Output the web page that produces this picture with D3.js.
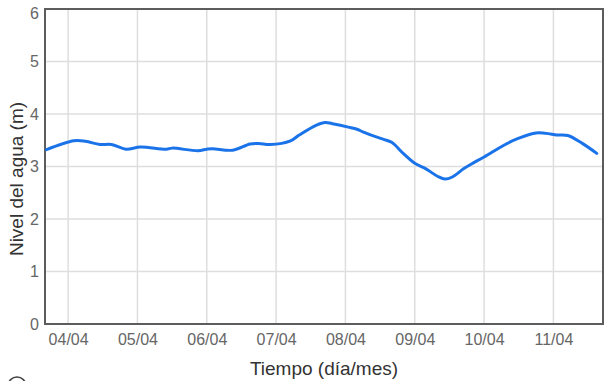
<!DOCTYPE html>
<html>
<head>
<meta charset="utf-8">
<script src="https://cdn.jsdelivr.net/npm/d3@7"></script>
<style>
  html, body { margin: 0; padding: 0; background: #fff; }
  svg { display: block; font-family: "Liberation Sans", Arial, sans-serif; }
</style>
</head>
<body>
<svg id="chart" width="606" height="381"></svg>
<script>
// Data
const times = [
  "2024-04-03 16:30", "2024-04-04 02:00", "2024-04-04 06:00", "2024-04-04 11:00", "2024-04-04 15:00",
  "2024-04-04 20:00", "2024-04-05 01:00", "2024-04-05 10:00", "2024-04-05 12:00", "2024-04-05 21:00",
  "2024-04-06 00:00", "2024-04-06 02:00", "2024-04-06 09:00", "2024-04-06 15:00", "2024-04-06 18:00",
  "2024-04-06 22:00", "2024-04-07 05:00", "2024-04-07 08:00", "2024-04-07 14:00", "2024-04-07 17:00",
  "2024-04-07 20:00", "2024-04-08 01:00", "2024-04-08 04:00", "2024-04-08 06:00", "2024-04-08 13:00",
  "2024-04-08 16:00", "2024-04-08 20:00", "2024-04-09 00:00", "2024-04-09 04:00", "2024-04-09 08:00",
  "2024-04-09 10:30", "2024-04-09 13:00", "2024-04-09 17:00", "2024-04-09 20:00", "2024-04-10 00:00",
  "2024-04-10 07:00", "2024-04-10 12:00", "2024-04-10 18:00", "2024-04-10 23:00", "2024-04-11 01:00",
  "2024-04-11 05:00", "2024-04-11 10:00", "2024-04-11 15:00"
];
const levels = [
  3.32, 3.49, 3.48, 3.42, 3.42,
  3.33, 3.37, 3.33, 3.35, 3.30,
  3.33, 3.34, 3.31, 3.43, 3.44,
  3.42, 3.49, 3.60, 3.79, 3.84,
  3.81, 3.75, 3.71, 3.66, 3.52,
  3.46, 3.25, 3.06, 2.95, 2.81,
  2.76, 2.80, 2.96, 3.06, 3.18,
  3.41, 3.54, 3.64, 3.62, 3.60,
  3.59, 3.44, 3.25
];
const yTicks = [0, 1, 2, 3, 4, 5, 6];
const xDomain = ["2024-04-03 16:00", "2024-04-11 17:10"];
const xTitle = "Tiempo (día/mes)";
const yTitle = "Nivel del agua (m)";

const parse = d3.timeParse("%Y-%m-%d %H:%M");
const data = times.map((t, i) => ({ t: parse(t), v: levels[i] }));

const svg = d3.select("#chart");
const L = 45, R = 603, T = 9, B = 324;

const x = d3.scaleTime().domain(xDomain.map(parse)).range([L, R]);
const y = d3.scaleLinear().domain([0, 6]).range([B, T]);

const dayTicks = d3.timeDay.range(d3.timeDay.ceil(x.domain()[0]), x.domain()[1]);

// gridlines
svg.append("g").selectAll("line").data(dayTicks).join("line")
  .attr("x1", d => x(d)).attr("x2", d => x(d))
  .attr("y1", T).attr("y2", B)
  .attr("stroke", "#dedede").attr("stroke-width", 1.5);
svg.append("g").selectAll("line").data(yTicks.slice(1, -1)).join("line")
  .attr("x1", L).attr("x2", R)
  .attr("y1", d => y(d)).attr("y2", d => y(d))
  .attr("stroke", "#dedede").attr("stroke-width", 1.5);

// axes (labels only)
const xAxis = d3.axisBottom(x).tickValues(dayTicks).tickFormat(d3.timeFormat("%d/%m")).tickSize(0).tickPadding(10);
const gx = svg.append("g").attr("transform", `translate(0,${B})`).call(xAxis);
gx.select(".domain").remove();
gx.selectAll("text").attr("fill", "#666").style("font-size", "16px")
  .style("font-family", "'Liberation Sans', Arial, sans-serif");

const yAxis = d3.axisLeft(y).tickValues(yTicks).tickFormat(d3.format("d")).tickSize(0).tickPadding(6);
const gy = svg.append("g").attr("transform", `translate(${L},0)`).call(yAxis);
gy.select(".domain").remove();
gy.selectAll("text").attr("fill", "#666").style("font-size", "16px")
  .style("font-family", "'Liberation Sans', Arial, sans-serif");
gy.selectAll(".tick").filter(d => d === 6).select("text").attr("dy", "0.62em");

// frame
svg.append("rect").attr("x", L).attr("y", T).attr("width", R - L).attr("height", B - T)
  .attr("fill", "none").attr("stroke", "#5c5c5c").attr("stroke-width", 2);

// line
const line = d3.line().x(d => x(d.t)).y(d => y(d.v)).curve(d3.curveCatmullRom.alpha(0.5));
svg.append("path").datum(data).attr("d", line)
  .attr("fill", "none").attr("stroke", "#1a73e8").attr("stroke-width", 3)
  .attr("stroke-linejoin", "round").attr("stroke-linecap", "round");

// titles
svg.append("text").attr("x", (L + R) / 2).attr("y", 375).attr("text-anchor", "middle")
  .attr("fill", "#333").style("font-size", "19px").text(xTitle);
svg.append("text").attr("transform", `translate(23,179) rotate(-90)`).attr("text-anchor", "middle")
  .attr("fill", "#333").style("font-size", "19px").text(yTitle);

// cut-off element at bottom left
svg.append("circle").attr("cx", 17).attr("cy", 386).attr("r", 9)
  .attr("fill", "none").attr("stroke", "#444").attr("stroke-width", 1.5);
</script>
</body>
</html>
